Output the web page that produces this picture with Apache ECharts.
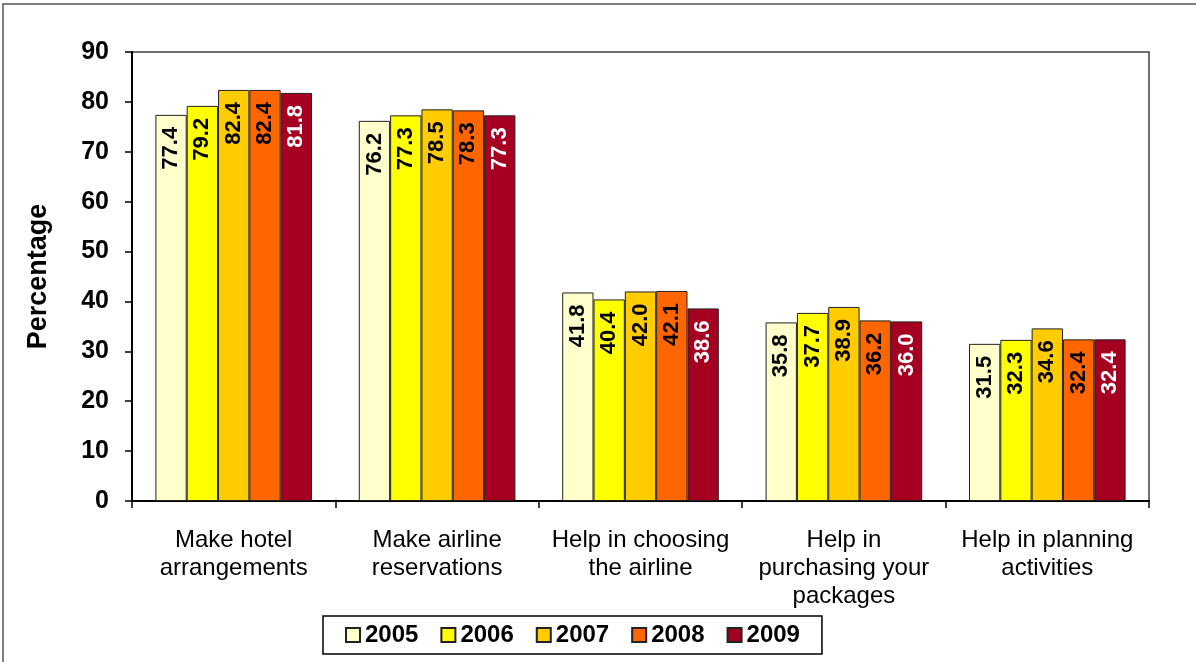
<!DOCTYPE html>
<html>
<head>
<meta charset="utf-8">
<script src="https://cdn.jsdelivr.net/npm/echarts@6/dist/echarts.min.js"></script>
<style>
html,body{margin:0;padding:0;background:#fff;}
#chart{width:1196px;height:662px;}
</style>
</head>
<body>
<div id="chart"></div>
<script>
const categories = ['Make hotel\narrangements', 'Make airline\nreservations', 'Help in choosing\nthe airline', 'Help in\npurchasing your\npackages', 'Help in planning\nactivities'];
const years = ['2005', '2006', '2007', '2008', '2009'];
const v2005 = [77.4, 76.2, 41.8, 35.8, 31.5];
const v2006 = [79.2, 77.3, 40.4, 37.7, 32.3];
const v2007 = [82.4, 78.5, 42.0, 38.9, 34.6];
const v2008 = [82.4, 78.3, 42.1, 36.2, 32.4];
const v2009 = [81.8, 77.3, 38.6, 36.0, 32.4];
const yTicks = [0, 10, 20, 30, 40, 50, 60, 70, 80, 90];

const values = [v2005, v2006, v2007, v2008, v2009];
const colors = ['#FFFFCC', '#FFFF00', '#FFCC00', '#FF6600', '#A50021'];
const labelColors = ['#000', '#000', '#000', '#000', '#fff'];
const FONT = 'Arial, "Liberation Sans", sans-serif';

const chart = echarts.init(document.getElementById('chart'));
chart.setOption({
  animation: false,
  backgroundColor: '#fff',
  graphic: [{
    type: 'rect',
    shape: {x: 3, y: 4, width: 1400, height: 900},
    style: {fill: 'none', stroke: '#555', lineWidth: 1.5},
    silent: true
  }],
  grid: {
    left: 132, right: 47, top: 52, bottom: 161,
    show: true, borderColor: '#404040', borderWidth: 1.5, backgroundColor: 'transparent'
  },
  legend: {
    data: years,
    bottom: 8,
    left: 323,
    itemWidth: 14,
    itemHeight: 14,
    itemGap: 22,
    padding: [7, 22, 7, 22],
    borderColor: '#000',
    borderWidth: 1.5,
    icon: 'rect',
    textStyle: {fontFamily: FONT, fontWeight: 'bold', fontSize: 24, color: '#000'}
  },
  xAxis: {
    type: 'category',
    data: categories,
    axisLine: {lineStyle: {color: '#000', width: 2}},
    axisTick: {show: true, inside: false, length: 7, alignWithLabel: false, lineStyle: {color: '#000', width: 1.5}},
    axisLabel: {
      interval: 0, margin: 25, fontFamily: FONT, fontSize: 24, color: '#000', lineHeight: 28
    }
  },
  yAxis: {
    type: 'value',
    min: 0, max: 90, interval: 10,
    name: 'Percentage',
    nameLocation: 'middle',
    nameRotate: 90,
    nameGap: 80,
    nameTextStyle: {fontFamily: FONT, fontWeight: 'bold', fontSize: 27, color: '#000'},
    splitLine: {show: false},
    axisLine: {show: true, lineStyle: {color: '#000', width: 2}},
    axisTick: {show: true, inside: false, length: 7, lineStyle: {color: '#000', width: 1.5}},
    axisLabel: {
      margin: 23, fontFamily: FONT, fontWeight: 'bold', fontSize: 25, color: '#000',
      formatter: function (v) { return yTicks.indexOf(v) >= 0 ? String(v) : ''; }
    }
  },
  series: years.map((y, i) => ({
    name: y,
    type: 'bar',
    data: values[i],
    barGap: '0%',
    barCategoryGap: '23%',
    itemStyle: {color: colors[i], borderColor: '#222', borderWidth: 1},
    label: {
      show: true,
      position: 'insideTop',
      distance: 12,
      rotate: 90,
      align: 'right',
      verticalAlign: 'middle',
      fontFamily: FONT,
      fontWeight: 'bold',
      fontSize: 22,
      color: labelColors[i],
      formatter: p => p.value.toFixed(1)
    }
  }))
});
</script>
</body>
</html>
